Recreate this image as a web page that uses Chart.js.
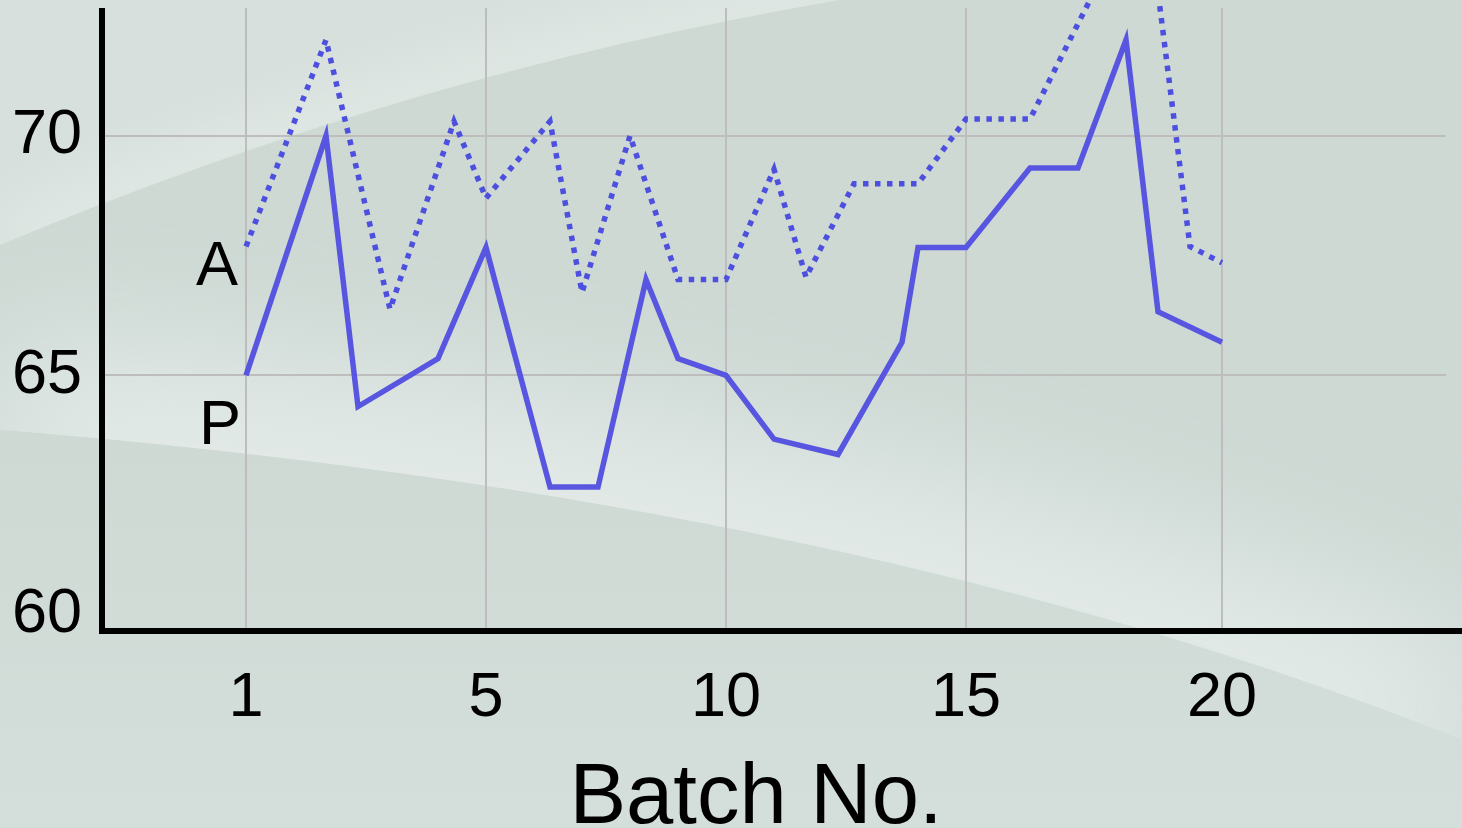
<!DOCTYPE html>
<html>
<head>
<meta charset="utf-8">
<title>Batch No.</title>
<script src="https://cdn.jsdelivr.net/npm/chart.js@4.4.1/dist/chart.umd.min.js"></script>
<style>
  html, body { margin: 0; padding: 0; background: #d3ddd9; overflow: hidden; }
  canvas { display: block; }
</style>
</head>
<body>
<canvas id="chart" width="1462" height="828"></canvas>
<script>
// Batch numbers and the horizontal slot each batch sits at on the x scale
const batches    = [1, 2, 3, 4, 5, 6, 7, 8, 9, 10, 11, 12, 13, 14, 15, 16, 17, 18, 19, 20];
const batchSlots = [0, 5, 7, 12, 15, 19, 22, 25, 27, 30, 33, 37, 41, 42, 45, 49, 52, 55, 57, 61];

// Series P (solid line), one value per batch
const pValues = [65.0, 70.0, 64.35, 65.35, 67.67, 62.67, 62.67, 67.0, 65.35, 65.0,
                 63.67, 63.35, 65.69, 67.67, 67.67, 69.33, 69.33, 72.0, 66.33, 65.69];

// Series A (dotted line): its own slots and values
const aSlots  = [0, 5, 9, 13, 15, 19, 21, 24, 27, 30, 33, 35, 38, 42, 45, 49, 53, 57, 59, 61];
const aValues = [67.69, 72.0, 66.38, 70.3, 68.7, 70.3, 66.73, 70.0, 67.0, 67.0,
                 69.3, 67.05, 69.0, 69.0, 70.35, 70.35, 73.0, 73.0, 67.69, 67.35];

// Tick labels
const xTickBatches = [1, 5, 10, 15, 20];
const yTickValues  = [60, 65, 70];
const xTitle = 'Batch No.';

const FONT = "'Liberation Sans', Arial, Helvetica, sans-serif";

// Soft swoosh backdrop painted behind the plot
const backdrop = {
  id: 'backdrop',
  beforeDraw(chart) {
    const ctx = chart.ctx;
    const w = chart.width, h = chart.height;
    const upper = () => { ctx.moveTo(0, 245); ctx.quadraticCurveTo(409, 73, 840, 0); };
    const lower = () => { ctx.moveTo(0, 430); ctx.quadraticCurveTo(859, 499, 1462, 740); };
    ctx.save();
    // middle band
    ctx.fillStyle = 'rgb(206,217,212)';
    ctx.fillRect(0, 0, w, h);
    ctx.save();
    ctx.beginPath();
    upper(); ctx.lineTo(w, 0); ctx.lineTo(w, 740);
    ctx.quadraticCurveTo(859, 499, 0, 430); ctx.closePath();
    ctx.clip();
    ctx.filter = 'blur(70px)';
    ctx.strokeStyle = 'rgb(229,236,234)';
    ctx.lineWidth = 170;
    ctx.beginPath(); lower(); ctx.stroke();
    ctx.filter = 'none';
    ctx.restore();

    // top-left region
    ctx.save();
    ctx.beginPath();
    ctx.moveTo(0, 0); ctx.lineTo(0, 245); ctx.quadraticCurveTo(409, 73, 840, 0); ctx.closePath();
    ctx.clip();
    ctx.fillStyle = 'rgb(215,224,220)';
    ctx.fillRect(0, 0, w, h);
    ctx.filter = 'blur(30px)';
    ctx.strokeStyle = 'rgb(225,232,229)';
    ctx.lineWidth = 60;
    ctx.beginPath(); upper(); ctx.stroke();
    ctx.filter = 'none';
    ctx.restore();

    // lower region
    ctx.save();
    ctx.beginPath();
    ctx.moveTo(0, 430); ctx.quadraticCurveTo(859, 499, 1462, 740);
    ctx.lineTo(w, h); ctx.lineTo(0, h); ctx.closePath();
    const g = ctx.createLinearGradient(0, 430, 0, h);
    g.addColorStop(0, 'rgb(206,217,212)');
    g.addColorStop(1, 'rgb(212,222,218)');
    ctx.fillStyle = g;
    ctx.fill();
    ctx.restore();
    ctx.restore();
  }
};

// Black axis lines on the left and bottom of the plot, and the x-axis title
const axisLines = {
  id: 'axisLines',
  afterDraw(chart, args, opts) {
    const { ctx, chartArea } = chart;
    ctx.save();
    ctx.strokeStyle = '#000';
    ctx.lineWidth = 6;
    ctx.lineCap = 'butt';
    ctx.beginPath();
    ctx.moveTo(chartArea.left, chartArea.top);
    ctx.lineTo(chartArea.left, chartArea.bottom + 3);
    ctx.moveTo(chartArea.left - 3, chartArea.bottom);
    ctx.lineTo(chart.width, chartArea.bottom);
    ctx.stroke();

    ctx.fillStyle = '#000';
    ctx.font = `85px ${FONT}`;
    ctx.textAlign = 'center';
    ctx.textBaseline = 'alphabetic';
    ctx.fillText(opts.title, (chartArea.left + chartArea.right) / 2 - 18, chartArea.bottom + 192);
    ctx.restore();
  }
};

// Series names written beside the first point of each line
const seriesTags = {
  id: 'seriesTags',
  afterDatasetsDraw(chart, args, opts) {
    const ctx = chart.ctx;
    ctx.save();
    ctx.font = `63px ${FONT}`;
    ctx.fillStyle = '#000';
    ctx.textAlign = 'right';
    ctx.textBaseline = 'middle';
    chart.data.datasets.forEach((ds, i) => {
      const pt = chart.getDatasetMeta(i).data[0];
      const off = opts.offsets[i];
      ctx.fillText(ds.label, pt.x + off.dx, pt.y + off.dy);
    });
    ctx.restore();
  }
};

Chart.defaults.font.family = FONT;
Chart.defaults.color = '#000';

const noEdgePadding = s => {
  s.paddingTop = 0; s.paddingBottom = 0; s.paddingLeft = 0; s.paddingRight = 0;
};

new Chart(document.getElementById('chart'), {
  type: 'line',
  data: {
    datasets: [
      {
        label: 'P',
        data: batches.map((b, i) => ({ x: batchSlots[i], y: pValues[i] })),
        borderColor: '#5856e0',
        borderWidth: 5.5,
        pointRadius: 0,
        tension: 0,
        fill: false,
        clip: false,
        borderJoinStyle: 'miter'
      },
      {
        label: 'A',
        data: aSlots.map((s, i) => ({ x: s, y: aValues[i] })),
        borderColor: '#4d50de',
        borderWidth: 5.5,
        borderDash: [5.5, 6.5],
        borderCapStyle: 'butt',
        pointRadius: 0,
        tension: 0,
        fill: false,
        clip: false
      }
    ]
  },
  options: {
    responsive: false,
    animation: false,
    devicePixelRatio: 1,
    layout: { padding: { top: 8, right: 16, left: 0, bottom: 0 } },
    plugins: {
      legend: { display: false },
      tooltip: { enabled: false },
      seriesTags: { offsets: [{ dx: -5, dy: 51 }, { dx: -8, dy: 21 }] },
      axisLines: { title: xTitle }
    },
    scales: {
      x: {
        type: 'linear',
        min: -9,
        max: 75,
        afterBuildTicks: s => {
          s.ticks = xTickBatches.map(b => ({ value: batchSlots[batches.indexOf(b)] }));
        },
        afterFit: s => { s.height = 197; noEdgePadding(s); },
        grid: { color: '#bdbdbd', lineWidth: 2, drawTicks: false },
        border: { display: false },
        ticks: {
          autoSkip: false,
          maxRotation: 0,
          padding: 30,
          font: { size: 63, family: FONT },
          color: '#000',
          callback: v => {
            const i = batchSlots.indexOf(v);
            return i >= 0 ? String(batches[i]) : '';
          }
        }
      },
      y: {
        type: 'linear',
        min: 60 - 1 / 3,
        max: 70 + 8 / 3,
        afterBuildTicks: s => { s.ticks = yTickValues.map(v => ({ value: v })); },
        afterFit: s => { s.width = 102; noEdgePadding(s); },
        grid: {
          lineWidth: 2,
          drawTicks: false,
          color: c => (c.tick && c.tick.value === 60 ? 'rgba(0,0,0,0)' : '#bdbdbd')
        },
        border: { display: false },
        ticks: {
          padding: 20,
          font: { size: 63, family: FONT },
          color: '#000',
          callback: v => String(v)
        }
      }
    }
  },
  plugins: [backdrop, axisLines, seriesTags]
});
</script>
</body>
</html>
